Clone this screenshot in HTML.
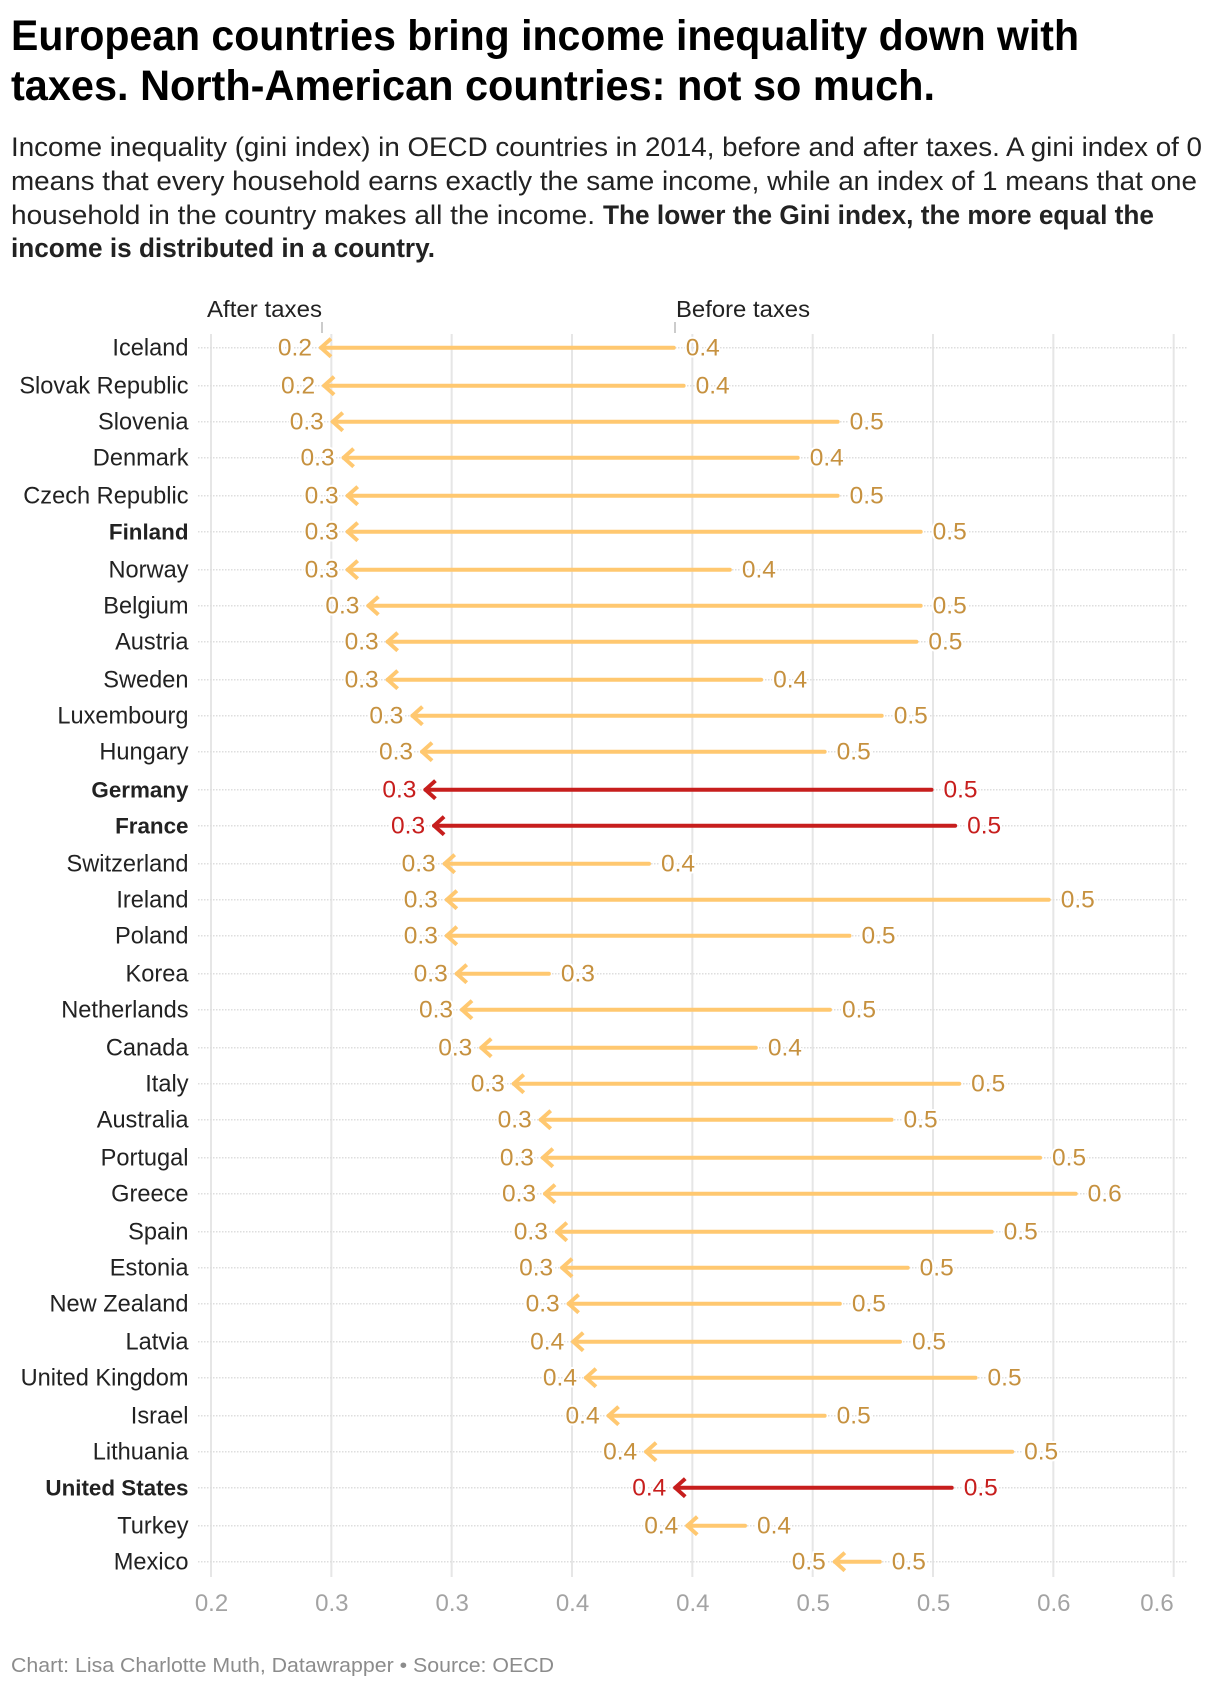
<!DOCTYPE html>
<html lang="en">
<head>
<meta charset="utf-8">
<title>European countries bring income inequality down with taxes</title>
<style>
html,body{margin:0;padding:0;background:#fff;}
svg{display:block;font-family:"Liberation Sans",sans-serif;}
</style>
</head>
<body>
<svg id="chart" xmlns="http://www.w3.org/2000/svg" width="1220" height="1690" viewBox="0 0 1220 1690">
  <rect width="1220" height="1690" fill="#fff"/>
  <g font-size="42.5" font-weight="700" fill="#000">
    <text x="11" y="50" textLength="1068" lengthAdjust="spacingAndGlyphs">European countries bring income inequality down with</text>
    <text x="11" y="100" textLength="924" lengthAdjust="spacingAndGlyphs">taxes. North-American countries: not so much.</text>
  </g>
  <g font-size="26.5" fill="#222">
    <text x="11" y="156" textLength="1191" lengthAdjust="spacingAndGlyphs">Income inequality (gini index) in OECD countries in 2014, before and after taxes. A gini index of 0</text>
    <text x="11" y="190" textLength="1186" lengthAdjust="spacingAndGlyphs">means that every household earns exactly the same income, while an index of 1 means that one</text>
    <text x="11" y="224" textLength="584" lengthAdjust="spacingAndGlyphs">household in the country makes all the income.</text>
    <text x="603" y="224" textLength="551" lengthAdjust="spacingAndGlyphs" font-weight="700">The lower the Gini index, the more equal the</text>
    <text x="11" y="257" textLength="424" lengthAdjust="spacingAndGlyphs" font-weight="700">income is distributed in a country.</text>
  </g>
  <g id="plot"></g>
  <text x="207" y="317" font-size="23.5" fill="#222" textLength="115" lengthAdjust="spacingAndGlyphs">After taxes</text>
  <line x1="322" x2="322" y1="322" y2="333" stroke="#999" stroke-width="1"/>
  <text x="676" y="317" font-size="23.5" fill="#222" textLength="134" lengthAdjust="spacingAndGlyphs">Before taxes</text>
  <line x1="675" x2="675" y1="322" y2="333" stroke="#999" stroke-width="1"/>
  <text x="11" y="1672" font-size="20.5" fill="#8c8c8c" textLength="543" lengthAdjust="spacingAndGlyphs">Chart: Lisa Charlotte Muth, Datawrapper • Source: OECD</text>
</svg>
<script>
const countries = ["Iceland","Slovak Republic","Slovenia","Denmark","Czech Republic","Finland","Norway","Belgium","Austria","Sweden","Luxembourg","Hungary","Germany","France","Switzerland","Ireland","Poland","Korea","Netherlands","Canada","Italy","Australia","Portugal","Greece","Spain","Estonia","New Zealand","Latvia","United Kingdom","Israel","Lithuania","United States","Turkey","Mexico"];
const afterTaxes = [0.2457,0.2470,0.2506,0.2551,0.2568,0.2568,0.2568,0.2654,0.2734,0.2734,0.2837,0.2877,0.2891,0.2927,0.2971,0.2980,0.2980,0.3021,0.3043,0.3123,0.3258,0.3370,0.3379,0.3388,0.3437,0.3459,0.3486,0.3505,0.3558,0.3652,0.3808,0.3929,0.3979,0.4592];
const beforeTaxes = [0.3929,0.3970,0.4610,0.4444,0.4610,0.4955,0.4162,0.4955,0.4937,0.4292,0.4793,0.4556,0.5000,0.5098,0.3826,0.5487,0.4659,0.3410,0.4578,0.4270,0.5115,0.4834,0.5451,0.5599,0.5250,0.4901,0.4619,0.4869,0.5183,0.4556,0.5335,0.5084,0.4225,0.4785];
const boldCountries = ["Finland","Germany","France","United States"];
const redCountries = ["Germany","France","United States"];
const tickValues = [0.2,0.25,0.3,0.35,0.4,0.45,0.5,0.55,0.6];
const tickLabels = ["0.2","0.3","0.3","0.4","0.4","0.5","0.5","0.6","0.6"];

const NS = "http://www.w3.org/2000/svg";
const plot = document.getElementById("plot");
function xScale(v){ return 211 + (v - 0.2) * 2406.7; }
function rowY(i){ return 347.7 + 2 * Math.floor(18.395 * i + 0.64); }
function make(tag, attrs, parent, text){
  const el = document.createElementNS(NS, tag);
  for (const k in attrs) el.setAttribute(k, attrs[k]);
  if (text !== undefined) el.textContent = text;
  parent.appendChild(el);
  return el;
}
const gridTop = 334, gridBottom = 1577;

tickValues.forEach(function(v, i){
  const gl = make("line", {x1:xScale(v), x2:xScale(v), y1:gridTop, y2:gridBottom, stroke:"#e6e6e6", "stroke-width":2}, plot);
  
  
  const last = i === tickValues.length - 1;
  const tl = make("text", {x:last ? xScale(v) : xScale(v) + 0.5, y:1611, "font-size":24, fill:"#a3a3a3", "text-anchor":last ? "end" : "middle"}, plot, tickLabels[i]);
  
  
});

countries.forEach(function(name, i){
  const y = rowY(i);
  const dots = make("line", {x1:198, x2:1187, y1:y, y2:y, stroke:"#dedede", "stroke-width":1.5, "stroke-dasharray":"1.5 1.5"}, plot);
  
  
});

countries.forEach(function(name, i){
  const y = rowY(i);
  const red = redCountries.indexOf(name) >= 0;
  const bold = boldCountries.indexOf(name) >= 0;
  const lineColor = red ? "#c71e1d" : "#ffc870";
  const textColor = red ? "#c71e1d" : "#c6913f";
  const xa = xScale(afterTaxes[i]);
  const xb = xScale(beforeTaxes[i]);

  const lab = make("text", {x:188.5, y:y + 8, "font-size":bold ? 22.4 : 23.6, "text-anchor":"end", fill:"#222", "font-weight":bold ? 700 : 400}, plot, name);
  
  

  const g = make("g", {}, plot);
  
  

  const shaft = make("line", {x1:xa, x2:xb - 1.5, y1:y, y2:y, stroke:lineColor, "stroke-width":4, "stroke-linecap":"round"}, g);
  
  

  const head = make("polyline", {points:(xa + 10) + "," + (y - 9) + " " + xa + "," + y + " " + (xa + 10) + "," + (y + 9), fill:"none", stroke:lineColor, "stroke-width":4, "stroke-linecap":"butt", "stroke-linejoin":"round"}, g);
  
  

  const la = make("text", {x:xa - 9, y:y + 8, "font-size":24.5, "text-anchor":"end", fill:textColor, stroke:"#fff", "stroke-width":4, "paint-order":"stroke", "stroke-linejoin":"round"}, plot, afterTaxes[i].toFixed(1));
  
  

  const lb = make("text", {x:xb + 10.5, y:y + 8, "font-size":24.5, "text-anchor":"start", fill:textColor, stroke:"#fff", "stroke-width":4, "paint-order":"stroke", "stroke-linejoin":"round"}, plot, beforeTaxes[i].toFixed(1));
  
  
});
</script>
</body>
</html>
